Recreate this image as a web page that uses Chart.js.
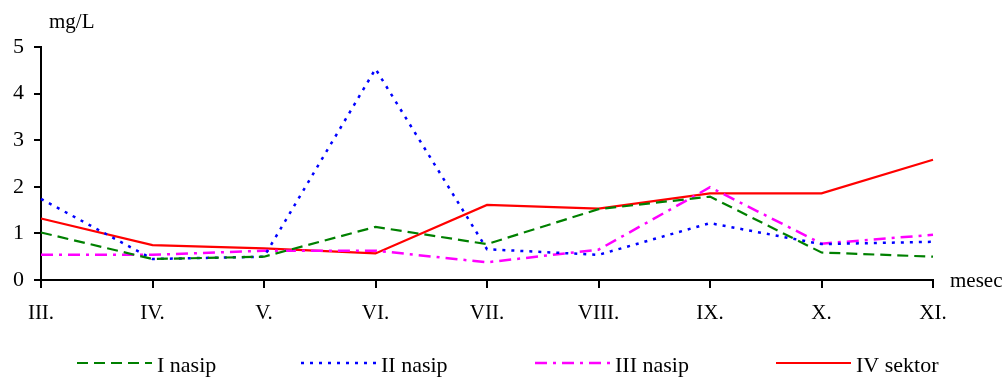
<!DOCTYPE html>
<html>
<head>
<meta charset="utf-8">
<script src="https://cdn.jsdelivr.net/npm/chart.js"></script>
<style>
  body { margin: 0; background: #fff; }
  #wrap { width: 1008px; height: 379px; position: relative; }
</style>
</head>
<body>
<div id="wrap"><canvas id="chart"></canvas></div>
<script>
// months (x categories)
var months = ["III.", "IV.", "V.", "VI.", "VII.", "VIII.", "IX.", "X.", "XI."];

// mg/L per sampling place
var iNasip   = [1.02, 0.45, 0.50, 1.14, 0.77, 1.52, 1.79, 0.59, 0.50];
var iiNasip  = [1.74, 0.45, 0.50, 4.53, 0.66, 0.54, 1.22, 0.77, 0.82];
var iiiNasip = [0.54, 0.54, 0.63, 0.63, 0.38, 0.65, 1.99, 0.78, 0.97];
var ivSektor = [1.32, 0.75, 0.68, 0.57, 1.61, 1.53, 1.86, 1.86, 2.58];

var yMin = 0, yMax = 5, yStep = 1;
var yUnit = "mg/L";
var xUnit = "mesec";

var FONT = "'Liberation Serif', 'Times New Roman', serif";

// axis unit labels + legend drawn by hand (Excel style)
var extras = {
  id: "extras",
  afterDraw: function (chart) {
    var ctx = chart.ctx;
    var area = chart.chartArea;
    ctx.save();
    ctx.fillStyle = "#000";
    ctx.font = "21px " + FONT;
    ctx.textBaseline = "alphabetic";
    ctx.textAlign = "left";
    ctx.fillText(yUnit, 49, 28);
    ctx.fillText(xUnit, area.right + 17, 287);

    // legend
    var legX = [77, 301, 535, 776];
    var legY = 363;
    ctx.font = "22px " + FONT;
    ctx.textBaseline = "middle";
    chart.data.datasets.forEach(function (ds, i) {
      ctx.save();
      ctx.strokeStyle = ds.borderColor;
      ctx.lineWidth = ds.borderWidth;
      ctx.setLineDash(ds.borderDash || []);
      ctx.beginPath();
      ctx.moveTo(legX[i], legY);
      ctx.lineTo(legX[i] + 75, legY);
      ctx.stroke();
      ctx.restore();
      ctx.fillText(ds.label, legX[i] + 80, legY + 3);
    });
    ctx.restore();
  }
};

new Chart(document.getElementById("chart"), {
  type: "line",
  data: {
    labels: months,
    datasets: [{
        label: "I nasip",
        data: iNasip,
        borderColor: "#008000",
        borderWidth: 2.2,
        borderDash: [11, 6]
      }, {
        label: "II nasip",
        data: iiNasip,
        borderColor: "#0000ff",
        borderWidth: 2.5,
        borderDash: [3, 6]
      }, {
        label: "III nasip",
        data: iiiNasip,
        borderColor: "#ff00ff",
        borderWidth: 2.5,
        borderDash: [12, 6, 3, 6]
      }, {
        label: "IV sektor",
        data: ivSektor,
        borderColor: "#ff0000",
        borderWidth: 2.2
      }]
  },
  options: {
    responsive: true,
    maintainAspectRatio: false,
    animation: false,
    layout: { padding: { top: 47, right: 75, bottom: 0, left: 0 } },
    elements: {
      point: { radius: 0 },
      line: { tension: 0, fill: false }
    },
    plugins: {
      legend: { display: false },
      tooltip: { enabled: false }
    },
    scales: {
      x: {
        offset: false,
        grid: { display: true, drawOnChartArea: false, color: "#000", lineWidth: 2, tickLength: 8 },
        border: { display: true, color: "#000", width: 2 },
        ticks: { color: "#000", font: { family: FONT, size: 21 }, padding: 13, maxRotation: 0, autoSkip: false },
        afterFit: function (s) { s.height = 99; }
      },
      y: {
        min: yMin,
        max: yMax,
        grid: { display: true, drawOnChartArea: false, color: "#000", lineWidth: 2, tickLength: 7 },
        border: { display: true, color: "#000", width: 2 },
        ticks: { stepSize: yStep, color: "#000", font: { family: FONT, size: 22 }, padding: 10 },
        afterFit: function (s) { s.width = 41; }
      }
    }
  },
  plugins: [extras]
});
</script>
</body>
</html>
